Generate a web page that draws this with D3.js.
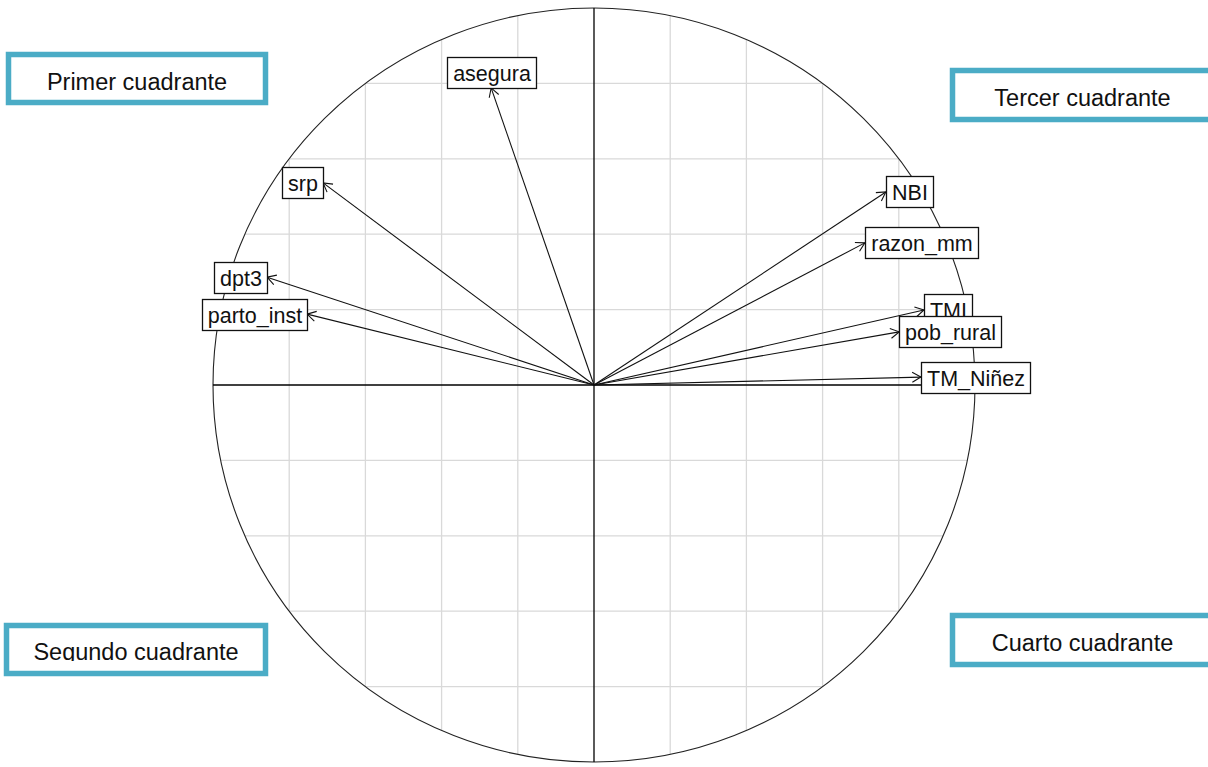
<!DOCTYPE html>
<html>
<head>
<meta charset="utf-8">
<script src="https://cdn.jsdelivr.net/npm/d3@7"></script>
<style>
  html, body { margin: 0; padding: 0; background: #fff; }
  svg { display: block; }
</style>
</head>
<body>
<div id="chart"></div>
<script>
// Variables (PCA correlation circle) and their coordinates on Dim1 / Dim2
const variables = ["asegura", "srp", "dpt3", "parto_inst", "NBI", "razon_mm", "TMI", "pob_rural", "TM_Niñez"]
const dim1 = [-0.270, -0.711, -0.858, -0.753, 0.766, 0.711, 0.866, 0.801, 0.858]
const dim2 = [0.788, 0.536, 0.286, 0.188, 0.512, 0.377, 0.199, 0.141, 0.021]

const gridTicks = [-0.8, -0.6, -0.4, -0.2, 0.2, 0.4, 0.6, 0.8]

const quadrantLabels = ["Primer cuadrante", "Tercer cuadrante", "Segundo cuadrante", "Cuarto cuadrante"]

const width = 1208
const height = 767

// quadrant text boxes (outer border box, text baseline)
const quadrantBoxes = [
  { x: 8.5, y: 54.5, w: 257, h: 48, base: 90, clip: null },
  { x: 952.5, y: 70.5, w: 260, h: 49, base: 106, clip: null },
  { x: 6.5, y: 625.5, w: 259, h: 48, base: 660, clip: 661 },
  { x: 952.5, y: 615.5, w: 260, h: 49, base: 651, clip: null }
]

const svg = d3.select("#chart")
  .append("svg")
  .attr("width", width)
  .attr("height", height)

const x = d3.scaleLinear().domain([-1, 1]).range([213, 975])
const y = d3.scaleLinear().domain([-1, 1]).range([762, 8])

const cx = x(0), cy = y(0)
const rx = x(1) - cx, ry = cy - y(1)

// Grid clipped to the unit circle
svg.append("defs").append("clipPath")
  .attr("id", "circle-clip")
  .append("ellipse")
  .attr("cx", cx).attr("cy", cy).attr("rx", rx).attr("ry", ry)

const grid = svg.append("g").attr("clip-path", "url(#circle-clip)")

grid.selectAll(".vgrid")
  .data(gridTicks)
  .join("line")
  .attr("x1", d => x(d)).attr("x2", d => x(d))
  .attr("y1", y(1)).attr("y2", y(-1))
  .attr("stroke", "#d9d9d9")
  .attr("stroke-width", 1.3)

grid.selectAll(".hgrid")
  .data(gridTicks)
  .join("line")
  .attr("y1", d => y(d)).attr("y2", d => y(d))
  .attr("x1", x(-1)).attr("x2", x(1))
  .attr("stroke", "#d9d9d9")
  .attr("stroke-width", 1.3)

// Circle
svg.append("ellipse")
  .attr("cx", cx).attr("cy", cy).attr("rx", rx).attr("ry", ry)
  .attr("fill", "none")
  .attr("stroke", "#222")
  .attr("stroke-width", 1.1)

// Axes
svg.append("line")
  .attr("x1", x(-1)).attr("x2", x(1))
  .attr("y1", cy).attr("y2", cy)
  .attr("stroke", "#000").attr("stroke-width", 1.3)

svg.append("line")
  .attr("x1", cx).attr("x2", cx)
  .attr("y1", y(1)).attr("y2", y(-1))
  .attr("stroke", "#000").attr("stroke-width", 1.3)

const data = variables.map((name, i) => ({ name, d1: dim1[i], d2: dim2[i] }))

// Arrows
const headLen = 10
const headAng = Math.PI / 6

const arrows = svg.append("g")
arrows.selectAll("g")
  .data(data)
  .join("g")
  .each(function (d) {
    const g = d3.select(this)
    const tx = x(d.d1), ty = y(d.d2)
    const a = Math.atan2(ty - cy, tx - cx)
    g.append("line")
      .attr("x1", cx).attr("y1", cy)
      .attr("x2", tx).attr("y2", ty)
      .attr("stroke", "#111").attr("stroke-width", 1.1)
    const p = d3.path()
    p.moveTo(tx - headLen * Math.cos(a - headAng), ty - headLen * Math.sin(a - headAng))
    p.lineTo(tx, ty)
    p.lineTo(tx - headLen * Math.cos(a + headAng), ty - headLen * Math.sin(a + headAng))
    g.append("path")
      .attr("d", p.toString())
      .attr("fill", "none")
      .attr("stroke", "#111").attr("stroke-width", 1.1)
  })

// Label boxes anchored at the arrow tip
const labelFont = "Liberation Sans, Arial, sans-serif"
const labels = svg.append("g")
labels.selectAll("g")
  .data(data)
  .join("g")
  .each(function (d) {
    const g = d3.select(this)
    const tx = x(d.d1), ty = y(d.d2)
    const rect = g.append("rect")
    const text = g.append("text")
      .attr("font-family", labelFont)
      .attr("font-size", 21.5)
      .attr("fill", "#111")
      .text(d.name)
    const tw = text.node().getComputedTextLength()
    const bw = tw + 11, bh = 31
    let bx, by
    if (Math.abs(d.d2) > Math.abs(d.d1)) {
      bx = tx - bw / 2
      by = d.d2 > 0 ? ty - bh : ty
    } else {
      bx = d.d1 > 0 ? tx : tx - bw
      by = ty - bh / 2
    }
    rect.attr("x", Math.round(bx) + 0.5).attr("y", Math.round(by) + 0.5)
      .attr("width", Math.round(bw)).attr("height", bh)
      .attr("fill", "#fff")
      .attr("stroke", "#111").attr("stroke-width", 1.3)
    text.attr("x", Math.round(bx) + 0.5 + Math.round(bw) / 2)
      .attr("y", Math.round(by) + 23.5)
      .attr("text-anchor", "middle")
  })

// Quadrant boxes
const defs = svg.select("defs")
quadrantBoxes.forEach((b, i) => {
  const g = svg.append("g")
  g.append("rect")
    .attr("x", b.x).attr("y", b.y)
    .attr("width", b.w).attr("height", b.h)
    .attr("fill", "#fff")
    .attr("stroke", "#4bacc6")
    .attr("stroke-width", 5.5)
  const t = g.append("text")
    .attr("x", b.x + b.w / 2)
    .attr("y", b.base)
    .attr("text-anchor", "middle")
    .attr("font-family", labelFont)
    .attr("font-size", 23.5)
    .attr("fill", "#111")
    .text(quadrantLabels[i])
  if (b.clip) {
    defs.append("clipPath").attr("id", "qclip" + i)
      .append("rect")
      .attr("x", b.x).attr("y", b.y)
      .attr("width", b.w).attr("height", b.clip - b.y)
    t.attr("clip-path", `url(#qclip${i})`)
  }
})
</script>
</body>
</html>
